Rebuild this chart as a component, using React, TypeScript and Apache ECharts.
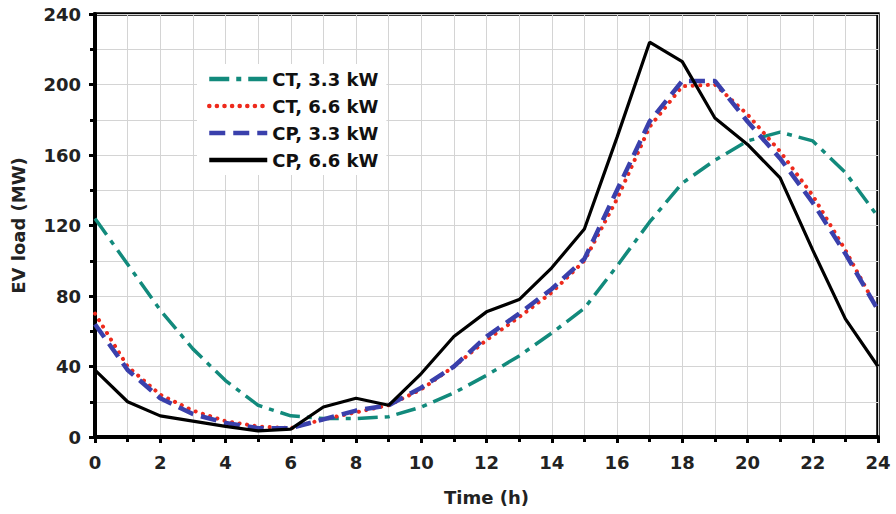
import React, { useEffect, useRef } from "react";
import * as echarts from "echarts";

const hours = [0,1,2,3,4,5,6,7,8,9,10,11,12,13,14,15,16,17,18,19,20,21,22,23,24];
const ct33 = [124,98,72,50,32,18,12,10.5,10.5,11.5,17,25,35,46,59,73,97,122,144,157,168,173,168,150,125];
const ct66 = [70,40,24,15,9,6,5,10,14,18,27,40,55,68,82,100,135,176,199,200,183,162,137,106,72];
const cp33 = [64,38,22,13,8,5,5,10,15,18,28,40,57,70,84,101,140,179,202,202,179,158,133,104,72];
const cp66 = [38,20,12,9,6,3.5,4.5,17,22,18,36,57,71,78,96,118,170,224,213,181,166,147,106,67,40];
const seriesNames = ["CT, 3.3 kW", "CT, 6.6 kW", "CP, 3.3 kW", "CP, 6.6 kW"];

const pairs = (v: number[]) => hours.map((h, i) => [h, v[i]]);

export default function App() {
  const ref = useRef<HTMLDivElement>(null);
  useEffect(() => {
    const chart = echarts.init(ref.current!, undefined, { renderer: "svg" });
    const font = "DejaVu Sans, sans-serif";
    chart.setOption({
      animation: false,
      backgroundColor: "#fff",
      grid: {
        left: 95, right: 18, top: 14, bottom: 77, show: true, borderColor: "#000", borderWidth: 3.5,
        outerBoundsMode: "none", containLabel: false,
      },
      legend: {
        left: 197, top: 64, orient: "vertical", itemWidth: 58, itemHeight: 14, itemGap: 9,
        backgroundColor: "#fff", padding: [6, 8, 6, 10],
        itemStyle: { opacity: 0 },
        lineStyle: { width: 4.5 },
        textStyle: { fontFamily: font, fontWeight: "bold", fontSize: 18, lineHeight: 18, color: "#111" },
        data: seriesNames,
      },
      xAxis: {
        type: "value", min: 0, max: 24, interval: 2,
        name: "Time (h)", nameLocation: "middle", nameGap: 51,
        nameTextStyle: { fontFamily: font, fontWeight: "bold", fontSize: 18, color: "#222" },
        axisLine: { lineStyle: { color: "#000", width: 4 } },
        axisTick: { show: true, length: 6, lineStyle: { color: "#000", width: 3 } },
        minorTick: { show: true, splitNumber: 2, length: 5, lineStyle: { color: "#000", width: 3 } },
        axisLabel: { fontFamily: font, fontWeight: "bold", fontSize: 18, color: "#222", margin: 16 },
        splitLine: { show: true, lineStyle: { color: "#d4d4d4", width: 1 } },
        minorSplitLine: { show: true, lineStyle: { color: "#d4d4d4", width: 1 } },
      },
      yAxis: {
        type: "value", min: 0, max: 240, interval: 40,
        name: "EV load (MW)", nameLocation: "middle", nameGap: 68,
        nameTextStyle: { fontFamily: font, fontWeight: "bold", fontSize: 18, color: "#222" },
        axisLine: { show: true, lineStyle: { color: "#000", width: 4 } },
        axisTick: { show: true, length: 6, lineStyle: { color: "#000", width: 3 } },
        minorTick: { show: true, splitNumber: 2, length: 5, lineStyle: { color: "#000", width: 3 } },
        axisLabel: { fontFamily: font, fontWeight: "bold", fontSize: 18, color: "#222", margin: 14 },
        splitLine: { show: true, lineStyle: { color: "#d4d4d4", width: 1 } },
        minorSplitLine: { show: true, lineStyle: { color: "#d4d4d4", width: 1 } },
      },
      series: [
        {
          name: seriesNames[0], type: "line", data: pairs(ct33), symbol: "none",
          lineStyle: { color: "#128a7c", width: 3.5, type: [20, 7, 5, 7] },
          itemStyle: { color: "#128a7c" },
        },
        {
          name: seriesNames[1], type: "line", data: pairs(ct66), symbol: "none",
          lineStyle: { color: "#ee2a1c", width: 4, type: [0.1, 7.5], cap: "round" },
          itemStyle: { color: "#ee2a1c" },
        },
        {
          name: seriesNames[2], type: "line", data: pairs(cp33), symbol: "none",
          lineStyle: { color: "#3a40ac", width: 4.5, type: [16, 8] },
          itemStyle: { color: "#3a40ac" },
        },
        {
          name: seriesNames[3], type: "line", data: pairs(cp66), symbol: "none",
          lineStyle: { color: "#000", width: 3.2 },
          itemStyle: { color: "#000" },
        },
      ],
    });
    return () => chart.dispose();
  }, []);
  return <div ref={ref} style={{ width: 896, height: 514, position: "absolute", left: 0, top: 0 }} />;
}
